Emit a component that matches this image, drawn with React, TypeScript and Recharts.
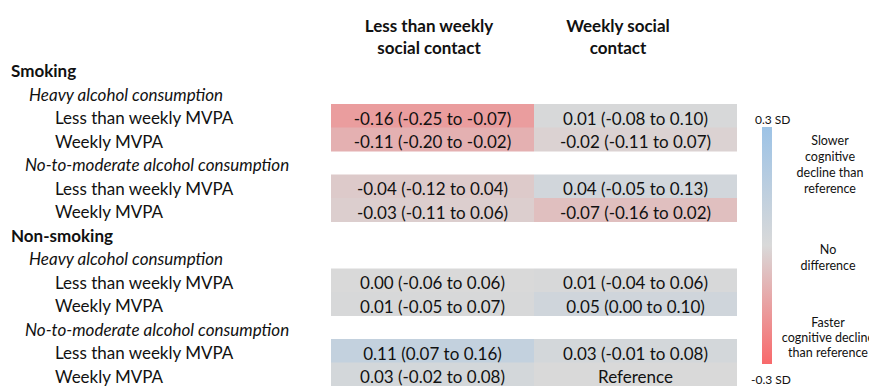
import { BarChart, Bar, XAxis, YAxis, Cell, LabelList, Customized } from "recharts";

// row labels of the table, with their indent level (0 = smoking group, 1 = alcohol, 2 = MVPA)
const rowLabels = [
  "Smoking",
  "Heavy alcohol consumption",
  "Less than weekly MVPA",
  "Weekly MVPA",
  "No-to-moderate alcohol consumption",
  "Less than weekly MVPA",
  "Weekly MVPA",
  "Non-smoking",
  "Heavy alcohol consumption",
  "Less than weekly MVPA",
  "Weekly MVPA",
  "No-to-moderate alcohol consumption",
  "Less than weekly MVPA",
  "Weekly MVPA",
];
const rowLevels = [0, 1, 2, 2, 1, 2, 2, 0, 1, 2, 2, 1, 2, 2];

const columnTitles = [
  ["Less than weekly", "social contact"],
  ["Weekly social", "contact"],
];

// less than weekly social contact
const lessEst = [null, null, -0.16, -0.11, null, -0.04, -0.03, null, null, 0.0, 0.01, null, 0.11, 0.03];
const lessLow = [null, null, -0.25, -0.2, null, -0.12, -0.11, null, null, -0.06, -0.05, null, 0.07, -0.02];
const lessHigh = [null, null, -0.07, -0.02, null, 0.04, 0.06, null, null, 0.06, 0.07, null, 0.16, 0.08];

// weekly social contact
const weeklyEst = [null, null, 0.01, -0.02, null, 0.04, -0.07, null, null, 0.01, 0.05, null, 0.03, 0];
const weeklyLow = [null, null, -0.08, -0.11, null, -0.05, -0.16, null, null, -0.04, 0.0, null, -0.01, null];
const weeklyHigh = [null, null, 0.1, 0.07, null, 0.13, 0.02, null, null, 0.06, 0.1, null, 0.08, null];

const referenceRow = 13;
const scaleMax = 0.3;
const legendTop = ["Slower", "cognitive", "decline than", "reference"];
const legendMid = ["No", "difference"];
const legendBottom = ["Faster", "cognitive decline", "than reference"];

const GREY = [217, 217, 217];
const BLUE = [157, 195, 230];
const RED = [248, 105, 107];

const cellColor = (v: number) => {
  const t = Math.min(Math.abs(v) / scaleMax, 1);
  const end = v >= 0 ? BLUE : RED;
  const c = GREY.map((g, k) => Math.round(g + (end[k] - g) * t));
  return `rgb(${c[0]},${c[1]},${c[2]})`;
};

const fmt = (n: number) => n.toFixed(2);
const ciText = (e: number | null, lo: number | null, hi: number | null, i: number, isRef: boolean) => {
  if (isRef && i === referenceRow) return "Reference";
  if (e === null || lo === null || hi === null) return "";
  return `${fmt(e)} (${fmt(lo)} to ${fmt(hi)})`;
};

const data = rowLabels.map((label, i) => ({
  id: String(i),
  label,
  level: rowLevels[i],
  less: lessEst[i] === null ? null : 1,
  weekly: weeklyEst[i] === null ? null : 1,
  lessText: ciText(lessEst[i], lessLow[i], lessHigh[i], i, false),
  weeklyText: ciText(weeklyEst[i], weeklyLow[i], weeklyHigh[i], i, true),
}));

const FONT = "Lato";
const FS = 17;
const LFS = 12.5;

const RowTick = (props: any) => {
  const { y, payload } = props;
  const i = Number(payload.value);
  const level = rowLevels[i];
  const x = level === 0 ? 11 : level === 1 ? (rowLabels[i].startsWith("No") ? 25 : 29) : 55;
  return (
    <text
      x={x}
      y={y + 2}
      dominantBaseline="central"
      textAnchor="start"
      fontFamily={FONT}
      fontSize={FS}
      fontWeight={level === 0 ? 700 : 400}
      fontStyle={level === 1 ? "italic" : "normal"}
      fill="#111"
    >
      {rowLabels[i]}
    </text>
  );
};

const CellLabel = (props: any) => {
  const { x, y, width, height, value } = props;
  if (!value) return null;
  return (
    <text
      x={x + width / 2}
      y={y + height / 2 + 2}
      textAnchor="middle"
      dominantBaseline="central"
      fontFamily={FONT}
      fontSize={FS}
      fill="#111"
    >
      {value}
    </text>
  );
};

const Decorations = () => (
  <g fontFamily={FONT}>
    {columnTitles.map((lines, c) =>
      lines.map((t, k) => (
        <text
          key={`${c}-${k}`}
          x={c === 0 ? 429 : 618}
          y={25 + k * 22}
          textAnchor="middle"
          dominantBaseline="central"
          fontSize={FS}
          fontWeight={700}
          fill="#111"
        >
          {t}
        </text>
      ))
    )}
    <defs>
      <linearGradient id="sdScale" x1="0" y1="0" x2="0" y2="1">
        <stop offset="0%" stopColor={cellColor(scaleMax)} />
        <stop offset="50%" stopColor={cellColor(0)} />
        <stop offset="100%" stopColor={cellColor(-scaleMax)} />
      </linearGradient>
    </defs>
    <rect x={762} y={127} width={10} height={237} fill="url(#sdScale)" />
    <text x={755} y={119} fontSize={12} dominantBaseline="central" fill="#111">
      0.3 SD
    </text>
    <text x={751} y={379} fontSize={12} dominantBaseline="central" fill="#111">
      -0.3 SD
    </text>
    {legendTop.map((t, k) => (
      <text key={t} x={830} y={140 + k * 16} fontSize={LFS} textAnchor="middle" dominantBaseline="central" fill="#111">
        {t}
      </text>
    ))}
    {legendMid.map((t, k) => (
      <text key={t} x={828} y={249 + k * 16} fontSize={LFS} textAnchor="middle" dominantBaseline="central" fill="#111">
        {t}
      </text>
    ))}
    {legendBottom.map((t, k) => (
      <text key={t} x={828} y={322 + k * 15} fontSize={LFS} textAnchor="middle" dominantBaseline="central" fill="#111">
        {t}
      </text>
    ))}
  </g>
);

export default function App() {
  return (
    <div style={{ position: "fixed", top: 0, left: 0, width: 869, height: 386, background: "#fff" }}>
      <BarChart
        width={869}
        height={386}
        data={data}
        layout="vertical"
        margin={{ top: 57, right: 132, left: 0, bottom: 0 }}
        barCategoryGap={0}
      >
        <XAxis type="number" domain={[0, 2]} hide />
        <YAxis
          type="category"
          dataKey="id"
          width={331}
          interval={0}
          axisLine={false}
          tickLine={false}
          tick={<RowTick />}
        />
        <Bar dataKey="less" stackId="cells" isAnimationActive={false}>
          {data.map((d, i) => (
            <Cell key={d.id} fill={lessEst[i] === null ? "none" : cellColor(lessEst[i] as number)} />
          ))}
          <LabelList dataKey="lessText" content={<CellLabel />} />
        </Bar>
        <Bar dataKey="weekly" stackId="cells" isAnimationActive={false}>
          {data.map((d, i) => (
            <Cell key={d.id} fill={weeklyEst[i] === null ? "none" : cellColor(weeklyEst[i] as number)} />
          ))}
          <LabelList dataKey="weeklyText" content={<CellLabel />} />
        </Bar>
        <Customized component={Decorations} />
      </BarChart>
    </div>
  );
}
